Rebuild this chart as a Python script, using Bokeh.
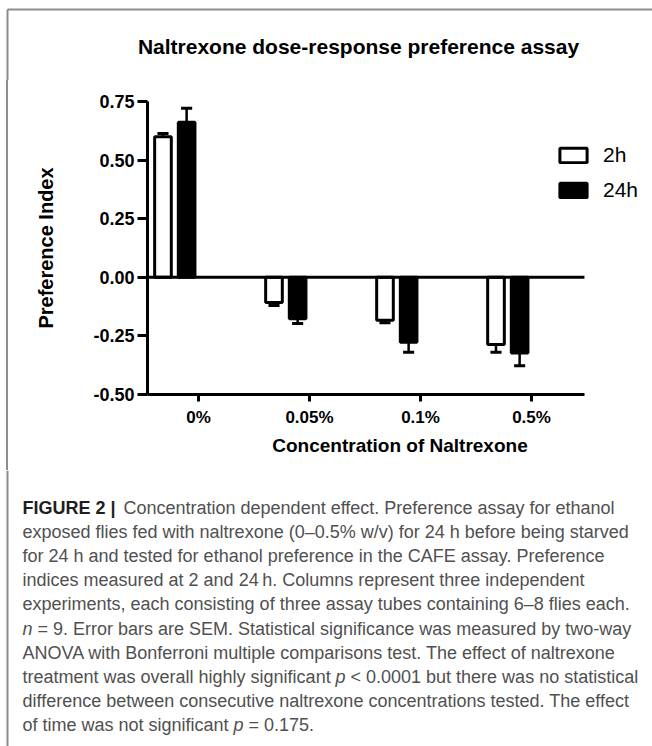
import numpy as np
from bokeh.plotting import figure
from bokeh.layouts import row
from bokeh.models import (Range1d, FixedTicker, NumeralTickFormatter, Legend,
                          LegendItem, ColumnDataSource, Div)
from bokeh.core.properties import value
from bokeh.embed import file_html
from bokeh.resources import INLINE

# ---------------- data ----------------
categories = ["0%", "0.05%", "0.1%", "0.5%"]
pref_2h = [0.600, -0.108, -0.183, -0.287]
sem_2h = [0.014, 0.012, 0.011, 0.033]
pref_24h = [0.662, -0.177, -0.277, -0.323]
sem_24h = [0.059, 0.020, 0.043, 0.054]
series_labels = ["2h", "24h"]

title_text = "Naltrexone dose-response preference assay"
x_label = "Concentration of Naltrexone"
y_label = "Preference Index"
y_ticks = [-0.5, -0.25, 0.0, 0.25, 0.5, 0.75]

FONT = "Liberation Sans"
BORDER = "#8c8c8c"
W = 652
H_A, H_B, H_C = 80, 390, 276


def blank(w, h):
    f = figure(width=w, height=h, x_range=Range1d(0, w), y_range=Range1d(h, 0),
               output_backend="svg", toolbar_location=None, min_border=0,
               x_axis_location=None, y_axis_location=None)
    f.grid.visible = False
    f.outline_line_color = None
    f.background_fill_color = "white"
    f.border_fill_color = "white"
    return f


# ---------------- title band ----------------
A = blank(W, H_A)
A.segment(x0=[7, 7], y0=[9, 9], x1=[W, 7], y1=[9, H_A], line_color=BORDER, line_width=2)
A.text(x=[358], y=[46], text=[title_text], text_font=value(FONT),
       text_font_style="bold", text_font_size="21px", text_color="black",
       text_align="center", text_baseline="alphabetic")

# ---------------- chart ----------------
pos = np.arange(1, len(categories) + 1)
x_start, x_axis_end, x_end = 0.5405, 4.477, 5.09
B = figure(width=W - 8, height=H_B,
           x_range=Range1d(x_start, x_end), y_range=Range1d(-0.5, 0.75),
           output_backend="svg", toolbar_location=None,
           min_border_left=139, min_border_right=0,
           min_border_top=21, min_border_bottom=76)
B.outline_line_color = None
B.xgrid.visible = False
B.ygrid.visible = False
B.background_fill_color = "white"
B.border_fill_color = "white"

off_2h, off_24h, bw = -0.32, -0.107, 0.15
x2 = pos + off_2h
x24 = pos + off_24h


def err_sources(x, v, s):
    v = np.array(v)
    s = np.array(s)
    tip = np.where(v >= 0, v + s, v - s)
    stems = ColumnDataSource(dict(x0=x, y0=v, x1=x, y1=tip))
    caps = ColumnDataSource(dict(x0=x - 0.05, y0=tip, x1=x + 0.05, y1=tip))
    return stems, caps


for x, v, s in [(x2, pref_2h, sem_2h), (x24, pref_24h, sem_24h)]:
    stems, caps = err_sources(x, v, s)
    B.segment("x0", "y0", "x1", "y1", source=stems, line_color="black", line_width=2.5)
    B.segment("x0", "y0", "x1", "y1", source=caps, line_color="black", line_width=3)

r2 = B.vbar(x=x2, top=pref_2h, bottom=0, width=bw, fill_color="white",
            line_color="black", line_width=3)
r24 = B.vbar(x=x24, top=pref_24h, bottom=0, width=bw, fill_color="black",
             line_color="black", line_width=3)

# zero line across the axis extent
B.segment(x0=[x_start], y0=[0], x1=[x_axis_end], y1=[0], line_color="black", line_width=3)

B.yaxis.ticker = FixedTicker(ticks=y_ticks)
B.yaxis.formatter = NumeralTickFormatter(format="0.00")
B.xaxis.ticker = FixedTicker(ticks=list(pos))
B.xaxis.major_label_overrides = {int(i): c for i, c in zip(pos, categories)}
B.xaxis.bounds = (x_start, x_axis_end)
for ax in (B.xaxis, B.yaxis):
    ax.axis_line_width = 3
    ax.axis_line_color = "black"
    ax.major_tick_line_width = 3
    ax.major_tick_line_color = "black"
    ax.major_tick_in = 0
    ax.minor_tick_line_color = None
    ax.major_label_text_font = FONT
    ax.major_label_text_font_style = "bold"
    ax.major_label_text_color = "black"
    ax.axis_label_text_font = FONT
    ax.axis_label_text_font_style = "bold"
    ax.axis_label_text_color = "black"
B.yaxis.major_tick_out = 10
B.yaxis.major_label_standoff = 3
B.yaxis.major_label_text_font_size = "18px"
B.yaxis.axis_label = y_label
B.yaxis.axis_label_text_font_size = "20px"
B.yaxis.axis_label_standoff = 33
B.xaxis.major_tick_out = 7
B.xaxis.major_label_standoff = 6
B.xaxis.major_label_text_font_size = "17px"
B.xaxis.axis_label = x_label
B.xaxis.axis_label_text_font_size = "19px"
B.xaxis.axis_label_standoff = 5

legend = Legend(items=[LegendItem(label=series_labels[0], renderers=[r2]),
                       LegendItem(label=series_labels[1], renderers=[r24])],
                location=(409, 192), border_line_color=None,
                background_fill_alpha=0, padding=0, margin=0, spacing=11,
                glyph_width=34, glyph_height=18, label_standoff=13,
                label_height=24, label_text_font=FONT,
                label_text_font_size="21px", label_text_color="black")
B.add_layout(legend)

# left border strip beside the chart
D = Div(text="", width=8, height=H_B, margin=0,
        styles={"border-right": "2px solid " + BORDER, "box-sizing": "border-box"})

# ---------------- caption ----------------
C = blank(W, H_C)
C.segment(x0=[7], y0=[0], x1=[7], y1=[H_C], line_color=BORDER, line_width=2)
cap_x = 22
base = 37
step = 24.2
cap_color = "#505050"
cap_size = "18px"
NB = "\u00a0"

cap_pieces = [
    # (line index, x offset, text, style)
    (0, 0, "FIGURE 2 |", "bold"),
    (0, 101, "Concentration dependent effect. Preference assay for ethanol", "normal"),
    (1, 0, "exposed flies fed with naltrexone (0\u20130.5% w/v) for 24 h before being starved", "normal"),
    (2, 0, "for 24 h and tested for ethanol preference in the CAFE assay. Preference", "normal"),
    (3, 0, "indices measured at 2 and 24\u2009h. Columns represent three independent", "normal"),
    (4, 0, "experiments, each consisting of three assay tubes containing 6\u20138 flies each.", "normal"),
    (5, 0, "n", "italic"),
    (5, 10, NB + "= 9. Error bars are SEM. Statistical significance was measured by two-way", "normal"),
    (6, 0, "ANOVA with Bonferroni multiple comparisons test. The effect of naltrexone", "normal"),
    (7, 0, "treatment was overall highly significant", "normal"),
    (7, 313, "p", "italic"),
    (7, 323, NB + "<" + NB + "0.0001 but there was no statistical", "normal"),
    (8, 0, "difference between consecutive naltrexone concentrations tested. The effect", "normal"),
    (9, 0, "of time was not significant", "normal"),
    (9, 211, "p", "italic"),
    (9, 221, NB + "=" + NB + "0.175.", "normal"),
]
for style in ("normal", "bold", "italic"):
    items = [c for c in cap_pieces if c[3] == style]
    C.text(x=[cap_x + c[1] for c in items], y=[base + step * c[0] for c in items],
           text=[c[2] for c in items], text_font=value(FONT), text_font_style=style,
           text_font_size=cap_size,
           text_color="#1e1e1e" if style == "bold" else cap_color,
           text_align="left", text_baseline="alphabetic")

open("out.html", "w").write(file_html([A, row(D, B), C], INLINE))
